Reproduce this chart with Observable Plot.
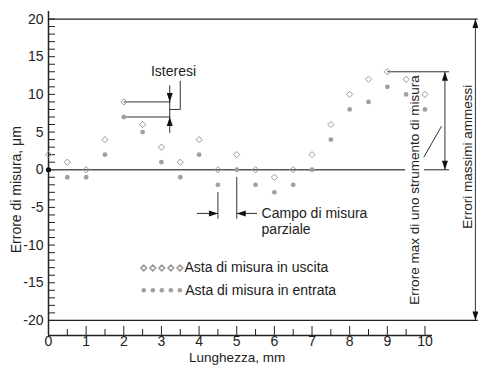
<!DOCTYPE html>
<html>
<head>
<meta charset="utf-8">
<script src="https://cdn.jsdelivr.net/npm/d3@7"></script>
<script src="https://cdn.jsdelivr.net/npm/@observablehq/plot@0.6"></script>
<style>
  html, body { margin: 0; padding: 0; background: #fff; }
  #chart svg { display: block; overflow: visible; }
</style>
</head>
<body>
<div id="chart"></div>
<script>
// Lunghezza (mm)
const lunghezza = [0, 0.5, 1, 1.5, 2, 2.5, 3, 3.5, 4, 4.5, 5, 5.5, 6, 6.5, 7, 7.5, 8, 8.5, 9, 9.5, 10];
// Asta di misura in uscita (µm)
const uscita = [2, 1, 0, 4, 9, 6, 3, 1, 4, 0, 2, 0, -1, 0, 2, 6, 10, 12, 13, 12, 10];
// Asta di misura in entrata (µm)
const entrata = [0, -1, -1, 2, 7, 5, 1, -1, 2, -2, 0, -2, -3, -2, 0, 4, 8, 9, 11, 10, 8];

const yMajorTicks = [-20, -15, -10, -5, 0, 5, 10, 15, 20];
const yMinorTicks = [-20,-19,-18,-17,-16,-15,-14,-13,-12,-11,-10,-9,-8,-7,-6,-5,-4,-3,-2,-1,0,1,2,3,4,5,6,7,8,9,10,11,12,13,14,15,16,17,18,19,20];
const xMajorTicks = [0, 1, 2, 3, 4, 5, 6, 7, 8, 9, 10];
const xMinorTicks = [0.5, 1.5, 2.5, 3.5, 4.5, 5.5, 6.5, 7.5, 8.5, 9.5];

const seriesLabels = ["Asta di misura in uscita", "Asta di misura in entrata"];
const yLabel = "Errore di misura, μm";
const xLabel = "Lunghezza, mm";

const uscitaData = lunghezza.map((x, i) => ({x, y: uscita[i]}));
const entrataData = lunghezza.map((x, i) => ({x, y: entrata[i]}));

// filled arrowhead, tip at origin pointing up
const arrowHead = {
  draw(ctx) { ctx.moveTo(0, 0); ctx.lineTo(3, 9); ctx.lineTo(-3, 9); ctx.closePath(); }
};

const frameLines = [
  {x1: 0, y1: 20, x2: 11.4, y2: 20},
  {x1: 0, y1: -20, x2: 11.4, y2: -20}
];
const zeroLines = [
  {x1: 0, y1: 0, x2: 9.47, y2: 0},
  {x1: 9.97, y1: 0, x2: 10.64, y2: 0}
];
const annLines = [
  // isteresi
  {x1: 2, y1: 9, x2: 3.24, y2: 9},
  {x1: 2, y1: 7, x2: 3.24, y2: 7},
  {x1: 3.22, y1: 11.2, x2: 3.22, y2: 4.9},
  {x1: 3.22, y1: 8, x2: 3.5, y2: 8},
  {x1: 3.5, y1: 8, x2: 3.5, y2: 11.8},
  // campo di misura parziale
  {x1: 4.5, y1: -2.95, x2: 4.5, y2: -6.5},
  {x1: 5, y1: -0.96, x2: 5, y2: -6.5},
  {x1: 3.94, y1: -5.8, x2: 4.5, y2: -5.8},
  {x1: 5, y1: -5.8, x2: 5.54, y2: -5.8},
  // errore max
  {x1: 9, y1: 13, x2: 10.64, y2: 13},
  {x1: 10.53, y1: 13, x2: 10.53, y2: 0},
  {x1: 9.97, y1: 1.66, x2: 10.44, y2: 5.78},
  // errori massimi ammessi
  {x1: 11.34, y1: 20, x2: 11.34, y2: -20}
];
const arrowHeads = [
  {x: 3.22, y: 9, r: 180},
  {x: 3.22, y: 7, r: 0},
  {x: 4.5, y: -5.8, r: 90},
  {x: 5, y: -5.8, r: -90},
  {x: 10.53, y: 13, r: 0},
  {x: 10.53, y: 0, r: 180},
  {x: 11.34, y: 20, r: 0},
  {x: 11.34, y: -20, r: 180}
];

const legendXs = [2.53, 2.77, 3.01, 3.25, 3.49];
const font = "'Liberation Sans', Arial, Helvetica, sans-serif";
const fs = 14;

const chart = Plot.plot({
  width: 478,
  height: 365,
  marginLeft: 48,
  marginRight: 46,
  marginTop: 11,
  marginBottom: 30,
  x: {domain: [0, 10.2], label: null},
  y: {domain: [-22, 21], label: null},
  style: {fontFamily: font, fontSize: fs + "px", color: "#222", background: "#fff", overflow: "visible"},
  marks: [
    // axes
    Plot.axisY(yMajorTicks, {anchor: "left", tickSize: 0, tickPadding: 5, fontSize: fs, label: null, tickFormat: d => String(d)}),
    Plot.axisY(yMinorTicks, {anchor: "left", tickSize: -7, tickFormat: () => "", label: null, stroke: "#222"}),
    Plot.axisX(xMajorTicks, {anchor: "bottom", tickSize: 0, tickPadding: 1, fontSize: fs, label: null, tickFormat: d => String(d)}),
    Plot.axisX(xMajorTicks, {anchor: "bottom", tickSize: -9, tickFormat: () => "", label: null, stroke: "#222"}),
    Plot.axisX(xMinorTicks, {anchor: "bottom", tickSize: -6, tickFormat: () => "", label: null, stroke: "#222"}),
    Plot.ruleX([0], {stroke: "#222", strokeWidth: 1.5}),
    Plot.ruleY([-22], {stroke: "#222", strokeWidth: 1.5}),
    Plot.link(frameLines, {x1: "x1", y1: "y1", x2: "x2", y2: "y2", stroke: "#222", strokeWidth: 1.3}),
    Plot.link(zeroLines, {x1: "x1", y1: "y1", x2: "x2", y2: "y2", stroke: "#555", strokeWidth: 1.3}),
    Plot.link(annLines, {x1: "x1", y1: "y1", x2: "x2", y2: "y2", stroke: "#333", strokeWidth: 1}),
    Plot.dot(arrowHeads, {x: "x", y: "y", rotate: "r", symbol: arrowHead, fill: "#111", stroke: "none"}),
    // data
    Plot.dot(entrataData, {x: "x", y: "y", r: 2.4, fill: "#a0a0a0", stroke: "none"}),
    Plot.dot(uscitaData, {x: "x", y: "y", symbol: "diamond2", r: 2.8, stroke: "#999", fill: "none", strokeWidth: 1}),
    Plot.dot([entrataData[0]], {x: "x", y: "y", r: 2.6, fill: "#111", stroke: "none"}),
    // legend
    Plot.dot(legendXs, {x: d => d, y: -13.04, symbol: "diamond2", r: 2.6, stroke: "#999", fill: "none"}),
    Plot.dot(legendXs, {x: d => d, y: -16.0, r: 2.3, fill: "#a0a0a0", stroke: "none"}),
    Plot.text([seriesLabels[0]], {x: 3.61, y: -13.04, text: d => d, textAnchor: "start", fontSize: fs, fill: "#222"}),
    Plot.text([seriesLabels[1]], {x: 3.63, y: -16.0, text: d => d, textAnchor: "start", fontSize: fs, fill: "#222"}),
    // annotations
    Plot.text(["Isteresi"], {x: 3.32, y: 13.1, text: d => d, fontSize: fs, fill: "#222"}),
    Plot.text(["Campo di misura"], {x: 5.66, y: -5.8, text: d => d, textAnchor: "start", fontSize: fs, fill: "#222"}),
    Plot.text(["parziale"], {x: 5.66, y: -7.9, text: d => d, textAnchor: "start", fontSize: fs, fill: "#222"}),
    Plot.text(["Errore max di uno strumento di misura"], {x: 9.72, y: -2.7, text: d => d, rotate: -90, fontSize: 13.5, fill: "#222"}),
    Plot.text(["Errori massimi ammessi"], {x: 11.14, y: 1.73, text: d => d, rotate: -90, fontSize: 13.5, fill: "#222"}),
    // axis titles
    Plot.text([yLabel], {x: -0.85, y: -2.65, text: d => d, rotate: -90, fontSize: fs, fill: "#222"}),
    Plot.text([xLabel], {x: 5.01, y: -24.95, text: d => d, fontSize: 13.5, fill: "#222"})
  ]
});
document.getElementById("chart").appendChild(chart);
</script>
</body>
</html>
